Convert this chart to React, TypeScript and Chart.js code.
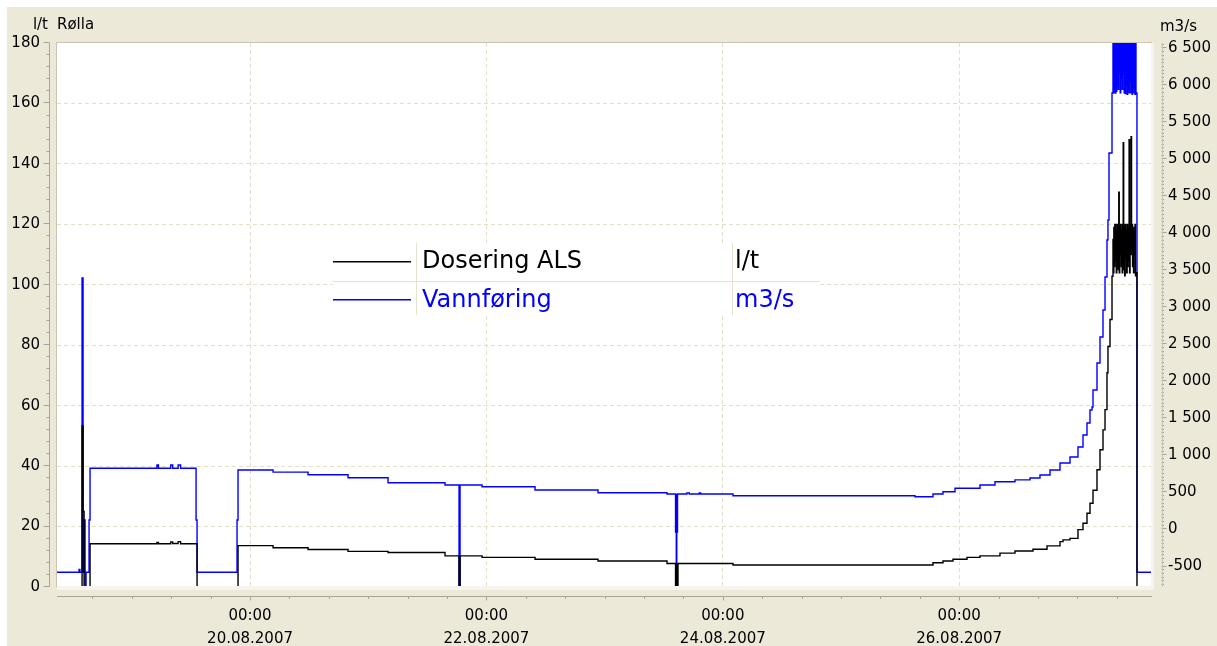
import React, { useEffect, useRef } from 'react';
import { Chart, registerables } from 'chart.js';

Chart.register(...registerables);

const FONT = 'DejaVu Sans';

// x axis: hours since 18.08.2007 00:00
const xMin = 8.8;
const xMax = 231.15;
const xTickHours = [48, 96, 144, 192];
const xTickTimes = ['00:00', '00:00', '00:00', '00:00'];
const xTickDates = ['20.08.2007', '22.08.2007', '24.08.2007', '26.08.2007'];
const xMinorStepHours = 8;

// left axis (l/t)
const leftMin = 0;
const leftMax = 180;
const leftTicks = [0, 20, 40, 60, 80, 100, 120, 140, 160, 180];
const leftMinorStep = 4;

// right axis (m3/s)
const rightMin = -777;
const rightMax = 6574;
const rightTicks = [-500, 0, 500, 1000, 1500, 2000, 2500, 3000, 3500, 4000, 4500, 5000, 5500, 6000, 6500];
const rightMinorStep = 50;

// Dosering ALS (l/t) - each value holds from its time onwards
const dosHours = [
  8.81, 13.89, 14.09, 14.3, 15.51, 29.1, 29.4, 31.9, 32.3, 33.4, 33.9, 37.24,
  45.56, 52.67, 59.78, 67.9, 76.02, 87.59, 90.44, 90.64, 95.11, 105.87, 118.66,
  132.67, 134.4, 134.6, 134.7, 134.9, 146.07, 186.68, 188.71, 190.74, 193.58,
  196.22, 200.28, 203.33, 206.98, 209.83, 212.47, 213.08, 214.5, 216.12, 217.14,
  217.95, 218.56, 219.17, 219.98, 220.59, 221.2, 221.61, 222.01, 222.21, 222.62,
  223.03, 223.23,
  223.3, 223.4, 223.5, 223.6, 223.7, 223.8, 223.9, 224.0, 224.1, 224.2, 224.3, 224.4,
  224.5, 224.6, 224.7, 224.8, 224.9, 225.0, 225.1, 225.2, 225.3, 225.4, 225.5, 225.6,
  225.7, 225.8, 225.9, 226.0, 226.1, 226.2, 226.3, 226.4, 226.5, 226.6, 226.7, 226.8,
  226.9, 227.0, 227.1, 227.2, 227.3, 227.4, 227.5, 227.6, 227.7, 227.8, 227.9,
  228.1, 231.15,
];
const dosValues = [
  0, 53.4, 25, 0, 14.3, 14.7, 14.3, 14.9, 14.4, 15.0, 14.3, 0,
  13.7, 13.0, 12.4, 11.8, 11.4, 10.3, 0, 10.3, 9.8, 9.2, 8.6,
  7.8, 0, 7.8, 0, 7.8, 7.3, 8.0, 8.6, 9.2, 9.8,
  10.3, 11.2, 11.9, 12.5, 13.6, 15.0, 15.6, 16.1, 19.0, 21.1,
  24.4, 27.7, 32.0, 38.8, 45.4, 52.0, 58.7, 70.9, 79.6, 88.5,
  102.8, 115,
  104, 119, 106, 120, 108, 118, 104, 120, 106, 119, 105, 130.6,
  104, 119, 110, 120, 106, 118, 104, 120, 147, 105, 119, 103,
  120, 109, 118, 104, 120, 106, 119, 108, 148, 104, 120, 110,
  149, 112, 120, 106, 119, 104, 118, 110, 120, 103, 104,
  0, 0,
];

// Vannføring (m3/s)
const vannHours = [
  8.81, 13.28, 13.45, 13.89, 14.09, 14.3, 14.5, 14.7, 15.31, 15.51, 29.1, 29.4,
  31.9, 32.3, 33.4, 33.9, 37.04, 37.24, 45.36, 45.56, 52.67, 59.78, 67.9, 76.02,
  87.59, 90.44, 90.64, 95.11, 105.87, 118.66, 132.67, 134.4, 134.5, 134.55, 134.65,
  134.7, 134.8, 136.7, 137.2, 139.2, 139.5, 146.07, 183.03, 186.68, 188.71, 191.15,
  196.22, 199.27, 203.33, 206.38, 208.4, 210.44, 212.47, 214.5, 216.12, 217.14,
  217.95, 218.56, 218.97, 219.17, 219.98, 220.59, 221.2, 221.61, 222.01, 222.21,
  222.42, 223.03, 223.23,
  223.3, 223.4, 223.5, 223.6, 223.7, 223.8, 223.9, 224.0, 224.1, 224.2, 224.3, 224.4,
  224.5, 224.6, 224.7, 224.8, 224.9, 225.0, 225.1, 225.2, 225.3, 225.4, 225.5, 225.6,
  225.7, 225.8, 225.9, 226.0, 226.1, 226.2, 226.3, 226.4, 226.5, 226.6, 226.7, 226.8,
  226.9, 227.0, 227.1, 227.2, 227.3, 227.4, 227.5, 227.6, 227.7, 227.8, 227.9,
  228.1, 231.15,
];
const vannValues = [
  -578, -540, -578, 3398, -578, 128, -777, -578, 128, 827, 872, 827,
  872, 827, 872, 827, 128, -578, 128, 804, 775, 740, 700, 632,
  601, -790, 601, 578, 534, 497, 480, -34, 469, -790, 469,
  -34, 480, 494, 480, 494, 480, 457, 443, 480, 511, 557,
  601, 646, 670, 696, 736, 804, 899, 980, 1115, 1277,
  1439, 1615, 1655, 1885, 2250, 2601, 2966, 3412, 3912, 4182,
  5088, 5898, 6900,
  5900, 6900, 5950, 6900, 5898, 6900, 5920, 6900, 6000, 6900, 5950, 6900,
  6169, 6900, 5900, 6900, 6100, 6900, 5950, 6900, 6150, 6900, 5900, 6900,
  5890, 6900, 6000, 6900, 5880, 6900, 5950, 6900, 5900, 6900, 6050, 6900,
  5900, 6900, 5880, 6900, 5950, 6900, 5900, 6900, 5880, 6900, 5900,
  -578, -578,
];

const seriesNames = ['Dosering ALS', 'Vannføring'];
const seriesUnits = ['l/t', 'm3/s'];
const seriesColors = ['#000000', '#0000ff'];
const leftTitle = 'l/t';
const chartTitle = 'Rølla';
const rightTitle = 'm3/s';

const BG = '#ECE9D8';
const GRID = '#E4E0C8';

const fmtThousands = (v: number) => {
  const s = Math.abs(v).toString().replace(/\B(?=(\d{3})+(?!\d))/g, ' ');
  return (v < 0 ? '-' : '') + s;
};

const decorPlugin = {
  id: 'decor',
  beforeDraw(chart: any) {
    const { ctx, chartArea: a, width, height } = chart;
    ctx.save();
    ctx.fillStyle = BG;
    ctx.fillRect(0, 0, width, height);
    ctx.fillStyle = '#FFFFFF';
    ctx.fillRect(a.left, a.top, a.right - a.left, a.bottom - a.top);
    ctx.restore();
  },
  afterDatasetsDraw(chart: any) {
    const { ctx, chartArea: a } = chart;
    ctx.save();
    // plot frame
    ctx.fillStyle = '#F5F4EE';
    ctx.fillRect(a.left, a.bottom - 1, a.right - a.left + 2, 4);
    ctx.fillRect(a.right - 1, a.top, 3, a.bottom - a.top + 2);
    ctx.fillStyle = '#C9C5B2';
    ctx.fillRect(a.left - 1, a.top - 1, a.right - a.left + 1, 1);
    ctx.fillRect(a.left - 1, a.top - 1, 1, a.bottom - a.top + 1);

    // legend table
    const lx = a.left + 276;
    const ly = a.top + 200;
    const lw = 487;
    const lh = 72;
    ctx.fillStyle = '#FFFFFF';
    ctx.fillRect(lx, ly, lw, lh);
    ctx.fillStyle = '#E6E2CE';
    ctx.fillRect(lx, ly + 38, lw, 1);
    ctx.fillRect(lx + 83, ly, 1, lh);
    ctx.fillRect(lx + 399, ly, 1, lh);
    const rowLineY = [ly + 18, ly + 56];
    const rowBase = [ly + 25, ly + 64];
    ctx.font = `24px "${FONT}"`;
    ctx.textBaseline = 'alphabetic';
    ctx.textAlign = 'left';
    for (let i = 0; i < seriesNames.length; i++) {
      ctx.fillStyle = seriesColors[i];
      ctx.fillRect(lx, rowLineY[i], 78, 1.5);
      ctx.fillText(seriesNames[i], lx + 89, rowBase[i]);
      ctx.fillText(seriesUnits[i], lx + 402, rowBase[i]);
    }
    ctx.restore();
  },
  afterDraw(chart: any) {
    const { ctx, chartArea: a, scales } = chart;
    const xs = scales.x;
    const yl = scales.yLeft;
    const yr = scales.yRight;
    ctx.save();
    ctx.strokeStyle = '#A8A496';
    ctx.lineWidth = 1;
    ctx.beginPath();
    // left axis
    const lax = a.left - 7.5;
    ctx.moveTo(lax, a.top);
    ctx.lineTo(lax, a.bottom);
    for (let v = leftMin; v <= leftMax; v += leftMinorStep) {
      const y = Math.round(yl.getPixelForValue(v)) - 0.5;
      const major = v % 20 === 0;
      ctx.moveTo(lax - (major ? 6 : 3), y);
      ctx.lineTo(lax, y);
    }
    // bottom axis
    const bay = a.bottom + 9.5;
    ctx.moveTo(a.left, bay);
    ctx.lineTo(a.right, bay);
    for (let h = Math.ceil(xMin / xMinorStepHours) * xMinorStepHours; h <= xMax; h += xMinorStepHours) {
      const x = Math.round(xs.getPixelForValue(h)) + 0.5;
      const major = xTickHours.includes(h);
      ctx.moveTo(x, bay);
      ctx.lineTo(x, bay + (major ? 4 : 2.5));
    }
    // right axis
    const rax = a.right + 10.5;
    for (let v = Math.ceil(rightMin / rightMinorStep) * rightMinorStep; v <= rightMax; v += rightMinorStep) {
      const y = Math.round(yr.getPixelForValue(v)) - 0.5;
      const major = v % 500 === 0;
      ctx.moveTo(rax - 1, y);
      ctx.lineTo(rax + (major ? 4 : 1.5), y);
    }
    ctx.stroke();
    ctx.strokeStyle = '#C8C4B4';
    ctx.beginPath();
    ctx.moveTo(rax, a.top);
    ctx.lineTo(rax, a.bottom);
    ctx.stroke();

    // titles
    ctx.fillStyle = '#000000';
    ctx.font = `15px "${FONT}"`;
    ctx.textBaseline = 'alphabetic';
    ctx.textAlign = 'right';
    ctx.fillText(leftTitle, a.left - 9, a.top - 14);
    ctx.textAlign = 'left';
    ctx.fillText(chartTitle, a.left, a.top - 14);
    ctx.fillText(rightTitle, a.right + 8, a.top - 12);
    ctx.restore();
  },
};

export default function App() {
  const ref = useRef<HTMLCanvasElement>(null);
  useEffect(() => {
    if (!ref.current) return;
    const tickFont = { family: FONT, size: 15 };
    const chart = new Chart(ref.current, {
      type: 'line',
      data: {
        datasets: [
          {
            label: seriesNames[0],
            data: dosHours.map((h, i) => ({ x: h, y: dosValues[i] })),
            yAxisID: 'yLeft',
            borderColor: seriesColors[0],
            borderWidth: 1.4,
            pointRadius: 0,
            stepped: true,
            fill: false,
          },
          {
            label: seriesNames[1],
            data: vannHours.map((h, i) => ({ x: h, y: vannValues[i] })),
            yAxisID: 'yRight',
            borderColor: seriesColors[1],
            borderWidth: 1.4,
            pointRadius: 0,
            stepped: true,
            fill: false,
          },
        ],
      },
      options: {
        animation: false,
        responsive: false,
        events: [],
        layout: { padding: { top: 36, left: 0, right: 0, bottom: 0 } },
        plugins: { legend: { display: false }, tooltip: { enabled: false } },
        scales: {
          x: {
            type: 'linear',
            position: 'bottom',
            min: xMin,
            max: xMax,
            afterBuildTicks: (s: any) => {
              s.ticks = xTickHours.map((v) => ({ value: v }));
            },
            afterFit: (s: any) => {
              s.height = 59;
            },
            ticks: {
              autoSkip: false,
              maxRotation: 0,
              minRotation: 0,
              padding: 18,
              color: '#000000',
              font: { ...tickFont, lineHeight: 1.5 },
              callback: (v: any) => {
                const i = xTickHours.indexOf(Number(v));
                return i >= 0 ? [xTickTimes[i], xTickDates[i]] : '';
              },
            },
            grid: { drawTicks: false, color: GRID, lineWidth: 1 },
            border: { display: false, dash: [4, 3] },
          },
          yLeft: {
            type: 'linear',
            position: 'left',
            min: leftMin,
            max: leftMax,
            afterBuildTicks: (s: any) => {
              s.ticks = leftTicks.map((v) => ({ value: v }));
            },
            afterFit: (s: any) => {
              s.width = 50;
            },
            ticks: {
              padding: 17,
              color: '#000000',
              font: tickFont,
              callback: (v: any) => String(v),
            },
            grid: {
              drawTicks: false,
              lineWidth: 1,
              color: (c: any) =>
                c.tick && (c.tick.value === leftMin || c.tick.value === leftMax) ? 'rgba(0,0,0,0)' : GRID,
            },
            border: { display: false, dash: [4, 3] },
          },
          yRight: {
            type: 'linear',
            position: 'right',
            min: rightMin,
            max: rightMax,
            afterBuildTicks: (s: any) => {
              s.ticks = rightTicks.map((v) => ({ value: v }));
            },
            afterFit: (s: any) => {
              s.width = 65;
            },
            ticks: {
              padding: 16,
              color: '#000000',
              font: tickFont,
              callback: (v: any) => fmtThousands(Number(v)),
            },
            grid: { drawTicks: false, drawOnChartArea: false },
            border: { display: false },
          },
        },
      },
      plugins: [decorPlugin],
    } as any);
    return () => chart.destroy();
  }, []);
  return (
    <div style={{ position: 'fixed', left: 7, top: 7, width: 1210, height: 639 }}>
      <canvas ref={ref} width={1210} height={639} style={{ display: 'block', width: 1210, height: 639 }} />
    </div>
  );
}
